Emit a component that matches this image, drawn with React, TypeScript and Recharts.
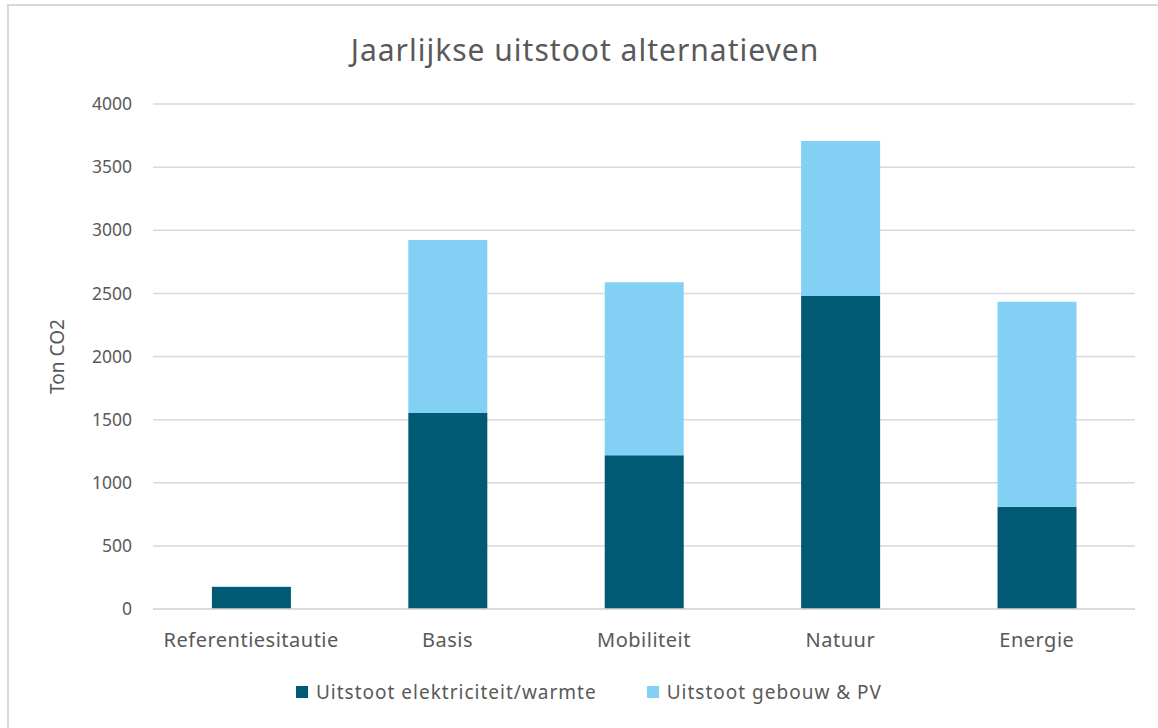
import { Bar, BarChart, CartesianGrid, Label, XAxis, YAxis } from "recharts";

const categories = ["Referentiesitautie", "Basis", "Mobiliteit", "Natuur", "Energie"];
const elektriciteitWarmte = [174, 1552, 1217, 2479, 810];
const gebouwPV = [5, 1371, 1371, 1228, 1624];
const yTicks = [0, 500, 1000, 1500, 2000, 2500, 3000, 3500, 4000];

const DARK = "#005a73";
const LIGHT = "#83d0f5";
const TEXT = "#595959";
const GRID = "#d9d9d9";
const FONT = "'Noto Sans', 'Open Sans', sans-serif";

const data = categories.map((name, i) => ({
  name,
  elek: elektriciteitWarmte[i],
  gebouw: gebouwPV[i],
}));

const legendItems = [
  { label: "Uitstoot elektriciteit/warmte", color: DARK },
  { label: "Uitstoot gebouw & PV", color: LIGHT },
];

function ChartLegend() {
  return (
    <div
      style={{
        position: "absolute",
        left: 0,
        width: 1178,
        top: 678,
        display: "flex",
        justifyContent: "center",
        gap: 50,
        fontFamily: FONT,
        fontSize: 19,
        letterSpacing: 1,
        color: TEXT,
        lineHeight: "28px",
      }}
    >
      {legendItems.map((item) => (
        <div key={item.label} style={{ display: "flex", alignItems: "center" }}>
          <span
            style={{
              display: "inline-block",
              width: 12,
              height: 12,
              background: item.color,
              marginRight: 8,
            }}
          />
          {item.label}
        </div>
      ))}
    </div>
  );
}

export default function App() {
  return (
    <div
      style={{
        position: "fixed",
        left: 0,
        top: 0,
        width: 1158,
        height: 728,
        overflow: "hidden",
        background: "#fff",
      }}
    >
      <div
        style={{
          position: "absolute",
          left: 7,
          top: 4,
          width: 1170,
          height: 760,
          border: `2px solid ${GRID}`,
        }}
      />
      <div
        style={{
          position: "absolute",
          left: 0,
          top: 29,
          width: 1170,
          textAlign: "center",
          fontFamily: FONT,
          fontSize: 30,
          letterSpacing: 1,
          color: TEXT,
        }}
      >
        Jaarlijkse uitstoot alternatieven
      </div>
      <div style={{ position: "absolute", left: 0, top: 0 }}>
        <BarChart
          width={1158}
          height={728}
          data={data}
          margin={{ top: 104, right: 23, bottom: 0, left: 43 }}
          barCategoryGap="30%"
        >
          <CartesianGrid vertical={false} stroke={GRID} strokeWidth={1.5} />
          <XAxis
            dataKey="name"
            axisLine={{ stroke: GRID, strokeWidth: 1.5 }}
            tickLine={false}
            tickMargin={18}
            tick={{ fill: TEXT, fontSize: 20, fontFamily: FONT, letterSpacing: 0.5 }}
            height={119}
          />
          <YAxis
            width={110}
            domain={[0, 4000]}
            ticks={yTicks}
            axisLine={false}
            tickLine={false}
            tickMargin={15}
            tick={{ fill: TEXT, fontSize: 17.5, fontFamily: FONT }}
          >
            <Label
              content={(props: any) => {
                const vb = props.viewBox;
                const x = vb.x + 14;
                const y = vb.y + vb.height / 2;
                return (
                  <text
                    x={x}
                    y={y}
                    transform={`rotate(-90, ${x}, ${y})`}
                    textAnchor="middle"
                    dominantBaseline="central"
                    fill={TEXT}
                    fontSize={19}
                    fontFamily={FONT}
                  >
                    Ton CO2
                  </text>
                );
              }}
            />
          </YAxis>
          <Bar dataKey="elek" stackId="a" fill={DARK} isAnimationActive={false} />
          <Bar dataKey="gebouw" stackId="a" fill={LIGHT} isAnimationActive={false} />
        </BarChart>
      </div>
      <ChartLegend />
    </div>
  );
}
